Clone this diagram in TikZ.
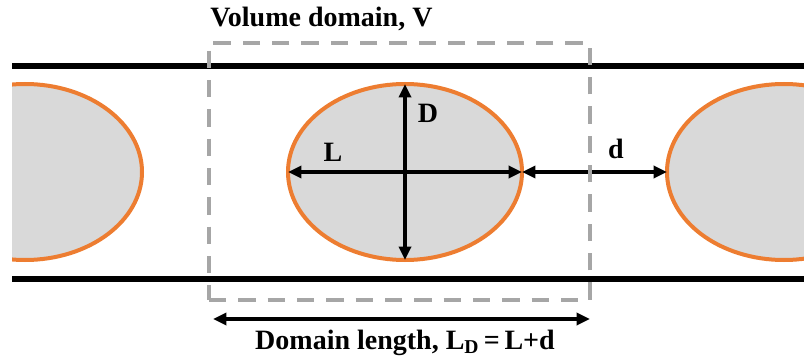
\documentclass[tikz,border=0pt]{standalone}
\usepackage{fontspec}
\setmainfont{Liberation Serif}
\usetikzlibrary{shapes.geometric,arrows.meta}
\definecolor{dropfill}{HTML}{D9D9D9}
\definecolor{droporange}{HTML}{ED7D31}
\definecolor{boxgray}{HTML}{A6A6A6}
\begin{document}
\begin{tikzpicture}[x=0.75pt,y=-0.75pt,
  drop/.style={ellipse,draw=droporange,fill=dropfill,line width=3pt,minimum width=234*0.75pt,minimum height=176*0.75pt,inner sep=0,outer sep=0},
  wall/.style={line width=3.8pt,black},
  dimarrow/.style={line width=2.8pt,{Triangle[length=10pt,width=9pt]}-{Triangle[length=10pt,width=9pt]}},
  lbl/.style={font=\bfseries\fontsize{21}{24}\selectfont,inner sep=0},
  dombox/.style={draw=boxgray,line width=3pt,dash pattern=on 13pt off 9pt,minimum width=381*0.75pt,minimum height=257*0.75pt,inner sep=0,outer sep=0}]
\useasboundingbox (0,0) rectangle (804,360);
\begin{scope}
\clip (12,0) rectangle (804,360);
\node[drop] (lft) at (25,172) {};
\node[drop] (rgt) at (784,172) {};
\end{scope}
\node[drop] (ctr) at (405,172) {};
\coordinate (wtl) at (12,66);
\coordinate (wtr) at (804,66);
\coordinate (wbl) at (12,279);
\coordinate (wbr) at (804,279);
\draw[wall] (wtl) -- (wtr);
\draw[wall] (wbl) -- (wbr);
\draw[dimarrow] (ctr.west) -- (ctr.east);
\draw[dimarrow] (ctr.north) -- (ctr.south);
\draw[dimarrow] (ctr.east) -- (rgt.west);
\node[lbl] (Llab) at (333,152) {L};
\node[lbl] (Dlab) at (428,113) {D};
\node[lbl] (dlab) at (616,149) {d};
\node[dombox] (box) at (399.5,171.5) {};
\node[lbl,anchor=west] (vlab) at (210,19) {Volume domain, V};
\coordinate (da) at (213,319);
\coordinate (db) at (590,319);
\draw[dimarrow] (da) -- (db);
\node[lbl] (dllab) at (405,343) {Domain length, L\textsubscript{D}\,=\,L+d};
\end{tikzpicture}
\end{document}
